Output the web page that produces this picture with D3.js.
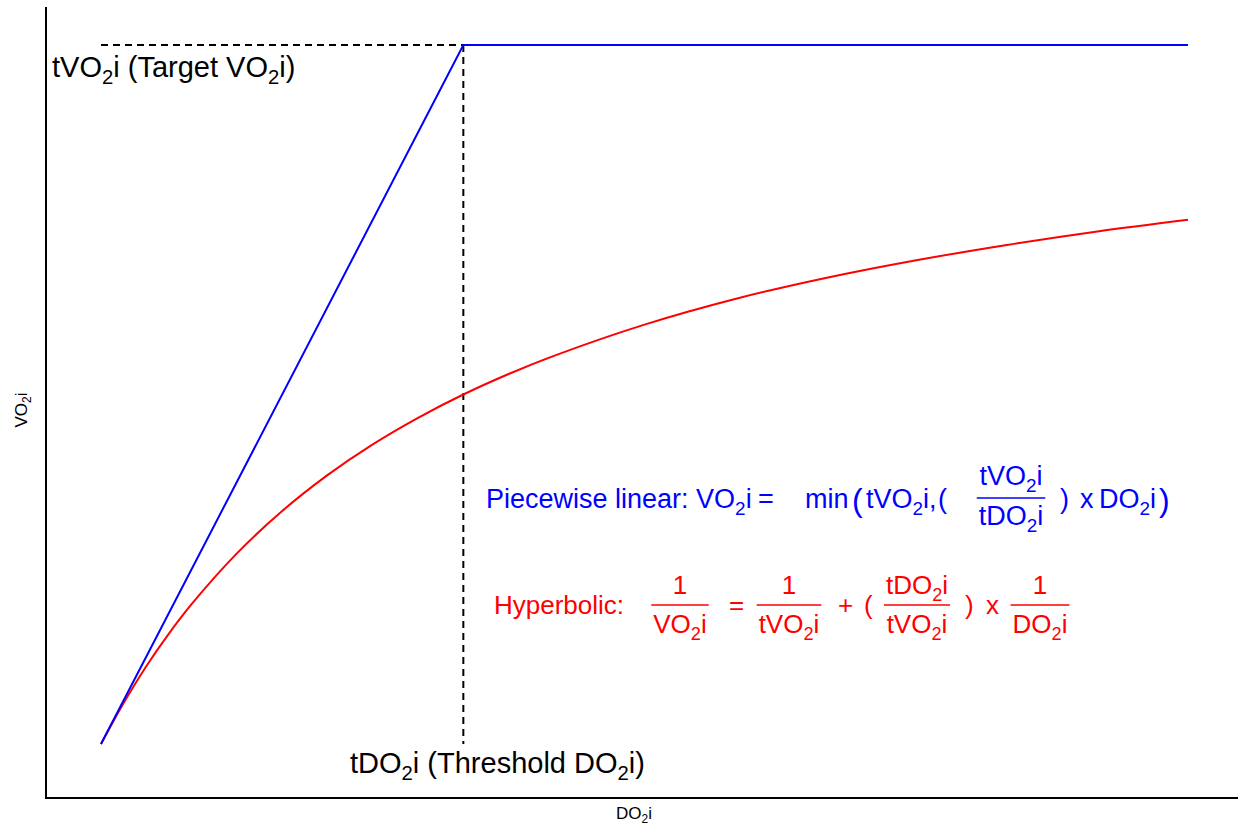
<!DOCTYPE html>
<html>
<head>
<meta charset="utf-8">
<script src="https://cdn.jsdelivr.net/npm/d3@7"></script>
<style>
  html, body { margin: 0; padding: 0; background: #fff; }
  svg { display: block; }
  text { font-family: "Liberation Sans", Arial, Helvetica, sans-serif; }
</style>
</head>
<body>
<svg id="chart" width="1238" height="828"></svg>
<script>
// ---------- data ----------
const targetVO2i = 150;      // tVO2i
const thresholdDO2i = 400;   // tDO2i
const maxDO2i = 1200;

// piecewise linear model (blue)
const linearDO2i = [0, 400, 1200];
const linearVO2i = [0, 150, 150];

// hyperbolic model (red)
const hyperDO2i = [0, 25, 50, 75, 100, 150, 200, 250, 300, 350, 400, 450, 500, 600, 700, 800, 900, 1000, 1100, 1200];
const hyperVO2i = [0, 8.8, 16.7, 23.7, 30.0, 40.9, 50.0, 57.7, 64.3, 70.0, 75.0, 79.4, 83.3, 90.0, 95.5, 100.0, 103.8, 107.1, 110.0, 112.5];

// ---------- layout ----------
const svg = d3.select("#chart");
const axisX = 46, axisBottom = 798, axisTop = 7;

const x = d3.scaleLinear().domain([0, maxDO2i]).range([101, 1188]);
const y = d3.scaleLinear().domain([0, targetVO2i]).range([744, 45]);

// axes (no ticks)
svg.append("line").attr("x1", axisX).attr("x2", axisX).attr("y1", axisTop).attr("y2", axisBottom)
  .attr("stroke", "#000").attr("stroke-width", 2);
svg.append("line").attr("x1", axisX - 1).attr("x2", 1238).attr("y1", axisBottom).attr("y2", axisBottom)
  .attr("stroke", "#000").attr("stroke-width", 2);

// dashed reference lines
svg.append("line")
  .attr("x1", x(0)).attr("x2", x(thresholdDO2i))
  .attr("y1", y(targetVO2i)).attr("y2", y(targetVO2i))
  .attr("stroke", "#000").attr("stroke-width", 2).attr("stroke-dasharray", "7,5");
svg.append("line")
  .attr("x1", x(thresholdDO2i)).attr("x2", x(thresholdDO2i))
  .attr("y1", y(targetVO2i)).attr("y2", y(0))
  .attr("stroke", "#000").attr("stroke-width", 2).attr("stroke-dasharray", "7,5");

// curves
svg.append("path")
  .datum(hyperDO2i.map((d, i) => [d, hyperVO2i[i]]))
  .attr("d", d3.line().x(d => x(d[0])).y(d => y(d[1])).curve(d3.curveCatmullRom))
  .attr("fill", "none").attr("stroke", "#ff0000").attr("stroke-width", 2);
svg.append("path")
  .datum(linearDO2i.map((d, i) => [d, linearVO2i[i]]))
  .attr("d", d3.line().x(d => x(d[0])).y(d => y(d[1])))
  .attr("fill", "none").attr("stroke", "#0000ff").attr("stroke-width", 2);

// ---------- text helpers ----------
// parts: array of [string, isSubscript]
function rich(g, px, py, parts, size, color, anchor) {
  const t = g.append("text").attr("x", px).attr("y", py)
    .attr("font-size", size).attr("fill", color).attr("text-anchor", anchor || "start");
  let shifted = false;
  parts.forEach(p => {
    const ts = t.append("tspan").text(p[0]);
    if (p[1]) {
      ts.attr("font-size", size * 0.7).attr("dy", size * 0.25);
      shifted = true;
    } else if (shifted) {
      ts.attr("dy", -size * 0.25);
      shifted = false;
    }
  });
  return t;
}
function plain(g, px, py, str, size, color) {
  return g.append("text").attr("x", px).attr("y", py).attr("font-size", size).attr("fill", color).text(str);
}
const VO = [["VO"], ["2", true], ["i"]];
const tVO = [["tVO"], ["2", true], ["i"]];
const tDO = [["tDO"], ["2", true], ["i"]];
const DO = [["DO"], ["2", true], ["i"]];

function frac(g, cx, barY, num, den, size, color, up, down) {
  const n = rich(g, cx, barY - up, num, size, color, "middle");
  const d = rich(g, cx, barY + down, den, size, color, "middle");
  const w = Math.max(n.node().getBBox().width, d.node().getBBox().width) + 4;
  g.append("line").attr("x1", cx - w / 2).attr("x2", cx + w / 2).attr("y1", barY).attr("y2", barY)
    .attr("stroke", color).attr("stroke-width", 1.5);
}

const g = svg.append("g");

// reference labels
rich(g, 52, 77, [["tVO"], ["2", true], ["i (Target VO"], ["2", true], ["i)"]], 29, "#000");
rich(g, 350, 773, [["tDO"], ["2", true], ["i (Threshold DO"], ["2", true], ["i)"]], 29, "#000");

// axis titles
rich(g, 634, 819, DO, 17, "#000", "middle");
const yl = g.append("g").attr("transform", "translate(27,410) rotate(-90)");
rich(yl, 0, 0, VO, 17, "#000", "middle");

// blue formula
const blue = "#0000ff";
const fb = 27;
rich(g, 486, 508, [["Piecewise linear: VO"], ["2", true], ["i"]], fb, blue);
plain(g, 758, 508, "=", fb, blue);
plain(g, 805, 508, "min", fb, blue);
plain(g, 852, 511, "(", 32, blue);
rich(g, 866, 508, [["tVO"], ["2", true], ["i,"]], fb, blue);
plain(g, 938, 508, "(", fb, blue);
frac(g, 1011, 498, tVO, tDO, fb, blue, 13, 27);
plain(g, 1060, 508, ")", fb, blue);
plain(g, 1080, 508, "x", fb, blue);
rich(g, 1099, 508, DO, fb, blue);
plain(g, 1159, 511, ")", 32, blue);

// red formula
const red = "#ff0000";
const fr = 26;
plain(g, 494, 614, "Hyperbolic:", fr, red);
frac(g, 680, 605, [["1"]], VO, fr, red, 11, 28);
plain(g, 729, 614, "=", fr, red);
frac(g, 789, 605, [["1"]], tVO, fr, red, 11, 28);
plain(g, 838, 614, "+", fr, red);
plain(g, 864, 614, "(", fr, red);
frac(g, 917, 605, tDO, tVO, fr, red, 11, 28);
plain(g, 965, 614, ")", fr, red);
plain(g, 986, 614, "x", fr, red);
frac(g, 1040, 605, [["1"]], DO, fr, red, 11, 28);
</script>
</body>
</html>
